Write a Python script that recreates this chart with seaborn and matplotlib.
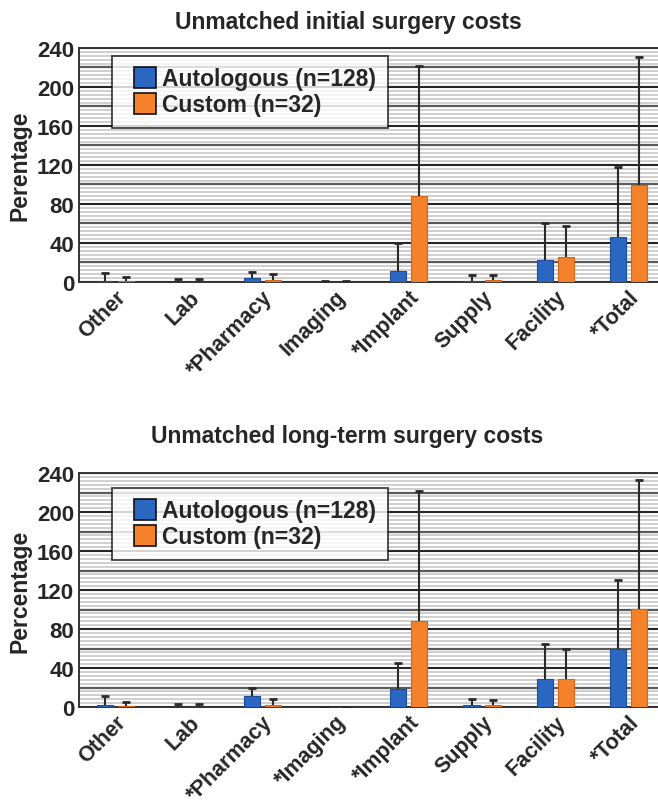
import numpy as np
import pandas as pd
import matplotlib
matplotlib.use("Agg")
import matplotlib.pyplot as plt
from matplotlib.ticker import MultipleLocator
from matplotlib.patches import Rectangle
from matplotlib.legend_handler import HandlerPatch
import seaborn as sns

# ── data (percentages) ────────────────────────────────────────────
groups = ["Autologous (n=128)", "Custom (n=32)"]

initial_cats = ["Other", "Lab", "*Pharmacy", "Imaging", "*Implant",
                "Supply", "Facility", "*Total"]
initial_auto = [1, 0, 4, 0, 11, 1, 23, 46]
initial_auto_up = [9, 3, 10, 0.5, 40, 7, 60, 118]
initial_cust = [1, 0, 2, 0, 88, 2, 26, 99]
initial_cust_up = [5, 3, 8, 0.5, 222, 7, 57, 231]

long_cats = ["Other", "Lab", "*Pharmacy", "*Imaging", "*Implant",
             "Supply", "Facility", "*Total"]
long_auto = [2, 0, 11, 0, 18, 2, 29, 59]
long_auto_up = [11, 3, 19, 0.5, 45, 8, 65, 130]
long_cust = [1, 0, 2, 0, 88, 2, 29, 101]
long_cust_up = [5, 3, 8, 0.5, 222, 7, 60, 233]

yticks = [0, 40, 80, 120, 160, 200, 240]

BLUE = "#2b67c2"
ORANGE = "#f5822a"
FONT = ["Liberation Sans", "DejaVu Sans"]


def square_patch(legend, orig_handle, xdescent, ydescent, width, height,
                 fontsize):
    # square swatch pushed to the right end of the handle slot
    s = 0.92 * fontsize
    return Rectangle((-xdescent + width - s, -ydescent + (height - s) / 2),
                     s, s)


def draw_panel(ax, ylabel, cats, auto, auto_up, cust, cust_up, legend_top):
    df = pd.DataFrame({
        "cat": cats * 2,
        "group": [groups[0]] * len(cats) + [groups[1]] * len(cats),
        "val": list(auto) + list(cust),
    })
    sns.barplot(data=df, x="cat", y="val", hue="group", order=cats,
                hue_order=groups, palette=[BLUE, ORANGE], errorbar=None,
                width=0.574, gap=0.23, legend=False, ax=ax, zorder=3,
                saturation=1)
    bars = list(ax.containers)
    edges = ["#1d4d96", "#d0651c"]
    for cont, ups, ec in zip(bars, [auto_up, cust_up], edges):
        xs, ys, errs = [], [], []
        for patch, up in zip(cont, ups):
            patch.set_edgecolor(ec)
            patch.set_linewidth(0.8)
            xs.append(patch.get_x() + patch.get_width() / 2)
            ys.append(patch.get_height())
            errs.append(up - patch.get_height())
        eb = ax.errorbar(xs, ys, yerr=[np.zeros(len(errs)), errs],
                         fmt="none", ecolor="#2a2a2a", elinewidth=1.5,
                         capsize=3, capthick=2, zorder=4)
        eb[1][0].set_visible(False)  # one-sided: hide the lower caps

    ax.set_ylim(0, 240)
    ax.set_xlim(-0.5, 7.4)
    ax.set_yticks(yticks)
    ax.yaxis.set_minor_locator(MultipleLocator(4))
    ax.grid(False)
    ax.grid(which="minor", axis="y", color="#cfcfcf", lw=1.4, zorder=0)
    for y in np.arange(20, 240, 40):
        ax.axhline(y, color="#5a5a5a", lw=1.6, zorder=1)
    ax.grid(which="major", axis="y", color="#262626", lw=1.5, zorder=1)
    ax.tick_params(axis="y", which="minor", length=0)
    ax.tick_params(axis="y", which="major", length=3, width=1.3,
                   color="#333333", pad=0.5)
    ax.tick_params(axis="x", length=0, pad=3)
    for lab in ax.get_yticklabels():
        lab.set_fontsize(16)
        lab.set_fontweight("bold")
        lab.set_family(FONT)
    ax.set_xticks(range(len(cats)))
    ax.set_xticklabels(cats, rotation=45, ha="right", rotation_mode="anchor",
                       fontsize=15.5, fontweight="bold", family=FONT)
    ax.set_xlabel("")
    ax.set_ylabel(ylabel, fontsize=16.5, fontweight="bold", family=FONT)
    ax.yaxis.set_label_coords(-0.082, 0.5)
    for side in ["left", "bottom", "top"]:
        ax.spines[side].set_visible(True)
        ax.spines[side].set_color("#333333")
        ax.spines[side].set_linewidth(1.4)
    ax.spines["right"].set_visible(False)

    handles = [cont[0] for cont in bars]
    leg = ax.legend(handles, groups, loc="upper left",
                    bbox_to_anchor=(0.057, legend_top), borderaxespad=0,
                    frameon=True, fancybox=False, handlelength=1.4,
                    handleheight=0.92, handletextpad=0.3, labelspacing=0.12,
                    borderpad=0.5,
                    handler_map={Rectangle: HandlerPatch(patch_func=square_patch)},
                    prop={"family": FONT, "weight": "bold", "size": 16.5})
    leg.get_frame().set_edgecolor("#111111")
    leg.get_frame().set_linewidth(1.3)
    leg.set_zorder(6)
    for h, c in zip(leg.legend_handles, [BLUE, ORANGE]):
        h.set_facecolor(c)
        h.set_edgecolor("#111111")
        h.set_linewidth(1.2)


sns.set_theme(style="white")
plt.rcParams["font.family"] = FONT

fig = plt.figure(figsize=(6.58, 8.03), dpi=100)
ax1 = fig.add_axes([0.12, 0.6476, 0.88, 0.2914])
ax2 = fig.add_axes([0.12, 0.1183, 0.88, 0.2914])

draw_panel(ax1, "Perentage", initial_cats, initial_auto, initial_auto_up,
           initial_cust, initial_cust_up, 0.966)
draw_panel(ax2, "Percentage", long_cats, long_auto, long_auto_up,
           long_cust, long_cust_up, 0.936)

fig.text(0.529, 0.9717, "Unmatched initial surgery costs", ha="center",
         va="center", fontsize=16.5, fontweight="bold", family=FONT)
fig.text(0.528, 0.4565, "Unmatched long-term surgery costs", ha="center",
         va="center", fontsize=16.5, fontweight="bold", family=FONT)

fig.savefig("out.png", dpi=100)
